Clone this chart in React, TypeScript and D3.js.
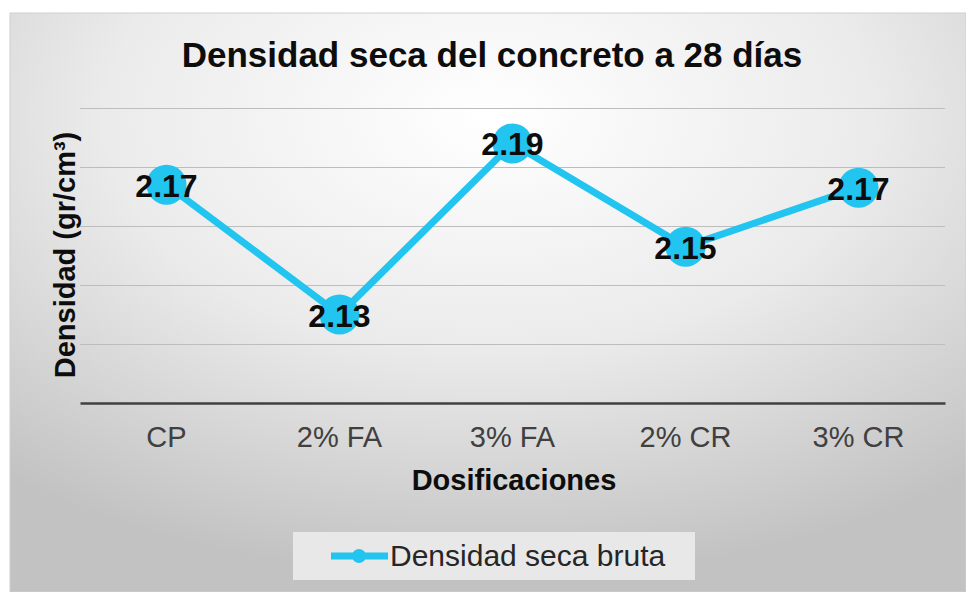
import React, { useEffect, useRef } from 'react';
import * as d3 from 'd3';

// Dry density of concrete at 28 days, one series over five dosages.
const categories = ['CP', '2% FA', '3% FA', '2% CR', '3% CR'];
const densidad = [2.174, 2.13, 2.188, 2.153, 2.173];
const gridTicks = [2.12, 2.14, 2.16, 2.18, 2.2];
const yDomain = [2.1, 2.2];

const W = 966;
const H = 592;
const PLOT_LEFT = 80;
const PLOT_RIGHT = 945;
const PLOT_TOP = 108;
const PLOT_BOTTOM = 403;
const LINE_COLOR = '#22c4f0';
const FONT = 'Arial, "Liberation Sans", sans-serif';

const App = () => {
  const svgRef = useRef<SVGSVGElement>(null);

  useEffect(() => {
    const svg = d3.select(svgRef.current).attr('width', W).attr('height', H);
    svg.selectAll('*').remove();

    const defs = svg.append('defs');
    const grad = defs
      .append('radialGradient')
      .attr('id', 'bg')
      .attr('cx', '50%')
      .attr('cy', '18%')
      .attr('r', '80%');
    grad.append('stop').attr('offset', '0%').attr('stop-color', '#ffffff');
    grad.append('stop').attr('offset', '50%').attr('stop-color', '#ebebeb');
    grad.append('stop').attr('offset', '100%').attr('stop-color', '#c2c2c2');

    svg.append('rect').attr('width', W).attr('height', H).attr('fill', '#ffffff');
    svg
      .append('rect')
      .attr('x', 10)
      .attr('y', 13)
      .attr('width', W - 10)
      .attr('height', H - 13)
      .attr('fill', 'url(#bg)')
      .attr('stroke', '#d0d0d0')
      .attr('stroke-width', 1);

    const x = d3
      .scaleBand()
      .domain(categories)
      .range([PLOT_LEFT, PLOT_RIGHT]);
    const y = d3.scaleLinear().domain(yDomain).range([PLOT_BOTTOM, PLOT_TOP]);
    const cx = (c: string) => (x(c) ?? 0) + x.bandwidth() / 2;

    // Gridlines.
    svg
      .append('g')
      .selectAll('line')
      .data(gridTicks)
      .enter()
      .append('line')
      .attr('x1', PLOT_LEFT)
      .attr('x2', PLOT_RIGHT)
      .attr('y1', (d) => Math.round(y(d)) + 0.5)
      .attr('y2', (d) => Math.round(y(d)) + 0.5)
      .attr('stroke', '#bdbdbd')
      .attr('stroke-width', 1);

    // Category axis.
    const xAxis = svg
      .append('g')
      .attr('transform', `translate(0,${PLOT_BOTTOM})`)
      .call(d3.axisBottom(x).tickSize(0).tickPadding(23));
    xAxis.select('.domain').attr('stroke', '#404040').attr('stroke-width', 2.5);
    xAxis
      .selectAll('text')
      .attr('font-family', FONT)
      .attr('font-size', '29px')
      .attr('fill', '#404040');

    // Series line and markers.
    const pts = categories.map((c, i) => ({ c, v: densidad[i] }));
    const line = d3
      .line<{ c: string; v: number }>()
      .x((d) => cx(d.c))
      .y((d) => y(d.v));
    svg
      .append('path')
      .datum(pts)
      .attr('fill', 'none')
      .attr('stroke', LINE_COLOR)
      .attr('stroke-width', 7)
      .attr('stroke-linejoin', 'round')
      .attr('d', line);
    svg
      .append('g')
      .selectAll('circle')
      .data(pts)
      .enter()
      .append('circle')
      .attr('cx', (d) => cx(d.c))
      .attr('cy', (d) => y(d.v))
      .attr('r', 20)
      .attr('fill', LINE_COLOR);

    // Data labels.
    svg
      .append('g')
      .selectAll('text')
      .data(pts)
      .enter()
      .append('text')
      .attr('x', (d) => cx(d.c))
      .attr('y', (d) => y(d.v) + 12)
      .attr('text-anchor', 'middle')
      .attr('font-family', FONT)
      .attr('font-weight', 'bold')
      .attr('font-size', '32px')
      .attr('fill', '#0d0d0d')
      .text((d) => d.v.toFixed(2));

    // Title and axis titles.
    svg
      .append('text')
      .attr('x', 492)
      .attr('y', 67)
      .attr('text-anchor', 'middle')
      .attr('font-family', FONT)
      .attr('font-weight', 'bold')
      .attr('font-size', '35px')
      .attr('fill', '#0d0d0d')
      .text('Densidad seca del concreto a 28 días');
    svg
      .append('text')
      .attr('x', 514)
      .attr('y', 490)
      .attr('text-anchor', 'middle')
      .attr('font-family', FONT)
      .attr('font-weight', 'bold')
      .attr('font-size', '29px')
      .attr('fill', '#0d0d0d')
      .text('Dosificaciones');
    svg
      .append('text')
      .attr('transform', `translate(75,${255}) rotate(-90)`)
      .attr('text-anchor', 'middle')
      .attr('font-family', FONT)
      .attr('font-weight', 'bold')
      .attr('font-size', '29px')
      .attr('fill', '#0d0d0d')
      .text('Densidad (gr/cm³)');

    // Legend.
    const lg = svg.append('g');
    lg.append('rect')
      .attr('x', 293)
      .attr('y', 532)
      .attr('width', 402)
      .attr('height', 48)
      .attr('fill', '#e8e8e8');
    lg.append('line')
      .attr('x1', 331)
      .attr('x2', 388)
      .attr('y1', 556)
      .attr('y2', 556)
      .attr('stroke', LINE_COLOR)
      .attr('stroke-width', 7);
    lg.append('circle').attr('cx', 359).attr('cy', 556).attr('r', 7).attr('fill', LINE_COLOR);
    lg.append('text')
      .attr('x', 390)
      .attr('y', 566)
      .attr('font-family', FONT)
      .attr('font-size', '30px')
      .attr('fill', '#262626')
      .text('Densidad seca bruta');
  }, []);

  return (
    <div style={{ position: 'absolute', left: 0, top: 0 }}>
      <svg ref={svgRef} style={{ display: 'block' }} />
    </div>
  );
};

export default App;
